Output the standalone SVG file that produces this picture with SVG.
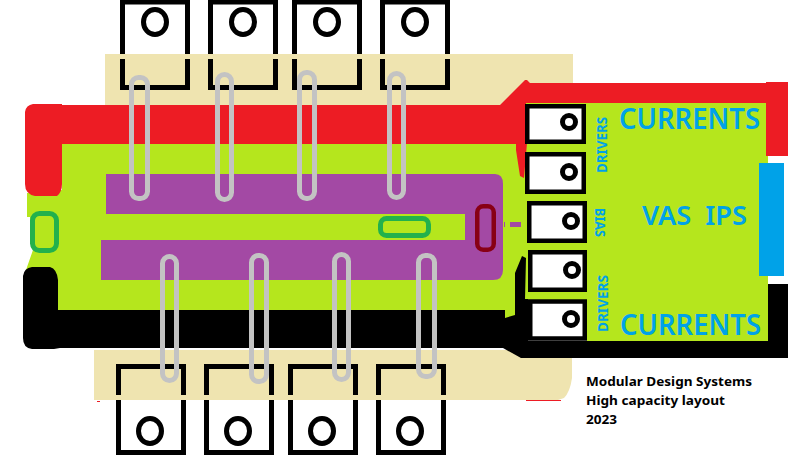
<svg xmlns="http://www.w3.org/2000/svg" width="795" height="459" viewBox="0 0 795 459">
<style>
.wb{fill:#fff;stroke:none}
.edge{fill:none;stroke:#000;stroke-width:5}
.hole{fill:#fff;stroke:#000;stroke-width:5}
.drv{fill:#fff;stroke:#000;stroke-width:4.5}
.pin{fill:#fff;stroke:#000;stroke-width:5}
.pill{fill:none;stroke:#c3c3c3;stroke-width:5}
.lbl{font-family:"Noto Sans","Liberation Sans",sans-serif;fill:#00a2e8;font-weight:600}
.small{font-family:"Noto Sans","Liberation Sans",sans-serif;fill:#00a2e8;font-weight:700;font-size:14px}
.note{font-family:"Noto Sans","Liberation Sans",sans-serif;fill:#000;font-weight:700;font-size:13px}
</style>
<rect width="795" height="459" fill="#fff"/>
<g id="top-transistors">
<g id="top-1"><rect class="hole" x="122.500" y="2" width="65" height="60"/><ellipse class="hole" cx="155" cy="22" rx="11.500" ry="12.500"/></g>
<g id="top-2"><rect class="hole" x="210.500" y="2" width="65" height="60"/><ellipse class="hole" cx="243" cy="22" rx="11.500" ry="12.500"/></g>
<g id="top-3"><rect class="hole" x="294.500" y="2" width="65" height="60"/><ellipse class="hole" cx="327" cy="22" rx="11.500" ry="12.500"/></g>
<g id="top-4"><rect class="hole" x="382.500" y="2" width="65" height="60"/><ellipse class="hole" cx="415" cy="22" rx="11.500" ry="12.500"/></g>
</g>
<g id="bottom-transistors">
<g id="bottom-1"><rect class="hole" x="118.500" y="390" width="65" height="62.500"/><ellipse class="hole" cx="150" cy="431" rx="11.500" ry="12.500"/></g>
<g id="bottom-2"><rect class="hole" x="206.500" y="390" width="65" height="62.500"/><ellipse class="hole" cx="238" cy="431" rx="11.500" ry="12.500"/></g>
<g id="bottom-3"><rect class="hole" x="290.500" y="390" width="65" height="62.500"/><ellipse class="hole" cx="322" cy="431" rx="11.500" ry="12.500"/></g>
<g id="bottom-4"><rect class="hole" x="378.500" y="390" width="65" height="62.500"/><ellipse class="hole" cx="410" cy="431" rx="11.500" ry="12.500"/></g>
</g>
<g id="heatsink-pads" fill="#efe4b0">
<rect x="105" y="54" width="468" height="55"/>
<path d="M94 350H572V378Q570 392 564 398L558 400H94Z"/>
</g>
<g id="transistor-legs" class="edge">
<path class="edge" d="M122.500 59V87.500H187.500V59M210.500 59V87.500H275.500V59M294.500 59V87.500H359.500V59M382.500 59V87.500H447.500V59"/>
<path class="edge" d="M118.500 395V366.500H183.500V395M206.500 395V366.500H271.500V395M290.500 395V366.500H355.500V395M378.500 395V366.500H443.500V395"/>
</g>
<g id="board">
<path id="board-main" fill="#b5e61d" d="M62 140H525V103H768V342H587V322H50V267L26 270L33 250L30 240V217H27V193L62 190Z"/>
<rect id="bias-bar" x="759" y="163" width="25" height="113" fill="#00a2e8"/>
</g>
<g id="rails">
<path id="rail-positive" fill="#ed1c24" d="M33 104H62V105H500L525 80H527L530 83H766V82H788V156H766V103H526V143H527L524 178L520 176L516 150V144H62V184Q62 192 57 196H35Q25 194 25 184V112Q26 105 33 104Z"/>
<path id="rail-negative" fill="#000" d="M32 267H50Q57 269 58 280V310H505V318L515 315V273L522 256L526 258L525 299H528V341H768V284H788V358H525L521 358L503 348H60L54 349H32Q23 348 23 338V276Q24 268 32 267Z"/>
<rect x="526" y="400" width="35" height="1" fill="#ed1c24"/>
<rect x="97" y="401" width="3" height="1" fill="#ed1c24"/>
</g>
<g id="bias-plate">
<path fill="#a349a4" d="M106 174H495Q503 174 503 184V270Q503 280 493 280H101V240H465V214H106Z"/>
<rect x="510" y="222" width="11" height="5" fill="#a349a4"/>
<rect x="504" y="222" width="1" height="5" fill="#a349a4"/>
</g>
<g id="driver-transistors">
<g id="driver-1"><rect class="drv" x="527.250" y="106.250" width="56.500" height="35.500"/><circle class="pin" cx="569" cy="122" r="6.500"/></g>
<g id="driver-2"><rect class="drv" x="527.250" y="154.250" width="56.500" height="37.500"/><circle class="pin" cx="569" cy="172" r="6.500"/></g>
<g id="bias-transistor"><rect class="drv" x="529.250" y="203.250" width="55.500" height="37.500"/><circle class="pin" cx="571" cy="221" r="6.500"/></g>
<g id="driver-3"><rect class="drv" x="530.250" y="252.250" width="54.500" height="37.500"/><circle class="pin" cx="572" cy="270" r="6.500"/></g>
<g id="driver-4"><rect class="drv" x="530.250" y="301.500" width="54.500" height="37"/><circle class="pin" cx="571" cy="319" r="6.500"/></g>
</g>
<g id="connectors">
<rect class="pill" x="131.500" y="77.500" width="16" height="121" rx="7"/>
<rect class="pill" x="217.500" y="74.500" width="14" height="125" rx="7"/>
<rect class="pill" x="299.500" y="72.500" width="15" height="126" rx="7"/>
<rect class="pill" x="389.500" y="73.500" width="14" height="124" rx="7"/>
<rect class="pill" x="162.500" y="256.500" width="14" height="124" rx="7"/>
<rect class="pill" x="251.500" y="255.500" width="15" height="126" rx="7"/>
<rect class="pill" x="334.500" y="254.500" width="14" height="125" rx="7"/>
<rect class="pill" x="418.500" y="255.500" width="16" height="121" rx="7"/>
<rect x="32.500" y="213.500" width="24" height="37" rx="7" fill="none" stroke="#22b14c" stroke-width="5"/>
<rect x="380.500" y="218.500" width="48" height="17" rx="6" fill="none" stroke="#22b14c" stroke-width="5"/>
<rect x="477.250" y="206.250" width="16.500" height="43.500" rx="6" fill="none" stroke="#880015" stroke-width="4.500"/>
</g>
<g id="labels">
<text class="lbl" x="619" y="129" font-size="28" textLength="141" lengthAdjust="spacingAndGlyphs">CURRENTS</text>
<text class="lbl" x="620" y="335" font-size="28" textLength="141" lengthAdjust="spacingAndGlyphs">CURRENTS</text>
<text class="lbl" x="642" y="225" font-size="27" textLength="105" lengthAdjust="spacingAndGlyphs" xml:space="preserve">VAS  IPS</text>
<text class="small" transform="translate(607 173) rotate(-90)" textLength="56" lengthAdjust="spacingAndGlyphs">DRIVERS</text>
<text class="small" transform="translate(608 332) rotate(-90)" textLength="57" lengthAdjust="spacingAndGlyphs">DRIVERS</text>
<text class="small" transform="translate(595 208) rotate(90)" textLength="29" lengthAdjust="spacingAndGlyphs">BIAS</text>
<text class="note" x="586" y="386" textLength="166" lengthAdjust="spacingAndGlyphs">Modular Design Systems</text>
<text class="note" x="586" y="405" textLength="139" lengthAdjust="spacingAndGlyphs">High capacity layout</text>
<text class="note" x="586" y="424" textLength="31" lengthAdjust="spacingAndGlyphs">2023</text>
</g>
</svg>
